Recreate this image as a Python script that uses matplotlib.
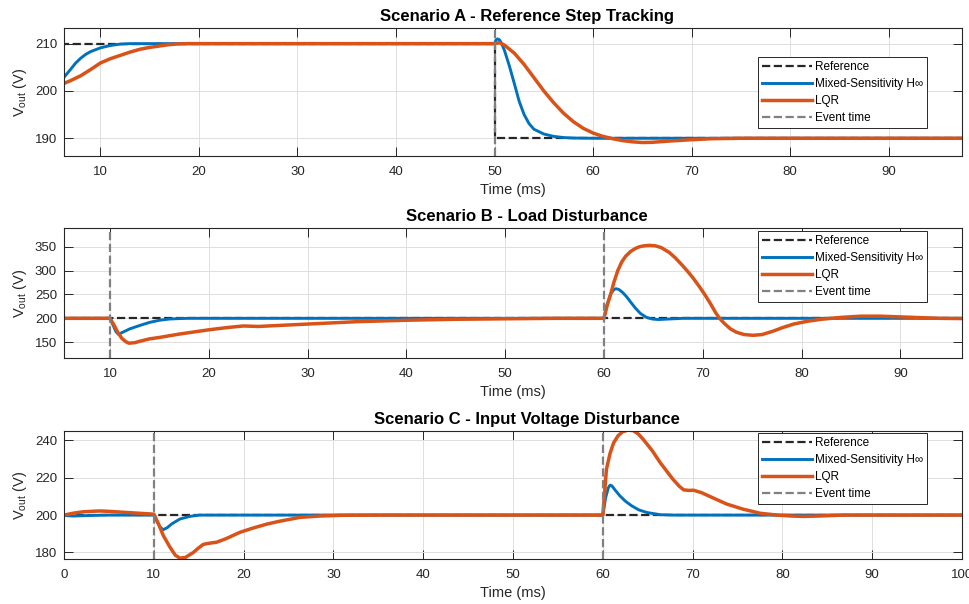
import matplotlib
matplotlib.use("Agg")
import matplotlib.pyplot as plt

plt.rcParams['font.family'] = ['Liberation Sans', 'DejaVu Sans']
plt.rcParams['mathtext.fontset'] = 'custom'
plt.rcParams['mathtext.rm'] = 'Liberation Sans'
plt.rcParams['mathtext.it'] = 'Liberation Sans'

# ---- Scenario A: reference step tracking ----
t_a_ref = [0, 50, 50, 100]
v_a_ref = [210, 210, 190, 190]
t_a_hinf = [6.32, 7, 7.5, 8, 8.5, 9, 10, 11, 12, 13, 50, 50.15, 50.3, 50.5, 50.7,
            51, 51.5, 52, 52.5, 53, 53.5, 54, 55, 56, 57, 58, 60, 97.5]
v_a_hinf = [202.9, 204.6, 205.9, 206.9, 207.7, 208.3, 209.1, 209.6, 209.9, 210, 210,
            210.8, 211.0, 210.8, 210.1, 208.6, 205.3, 201.6, 197.8, 195.0, 193.1,
            191.9, 190.9, 190.4, 190.15, 190.05, 190, 190]
t_a_lqr = [6.32, 7, 8, 9, 10, 11, 12, 13, 14, 15, 16, 17, 18, 19, 50, 50.5, 51, 52,
           53, 54, 55, 56, 57, 58, 59, 60, 61, 62, 63, 64, 65, 66, 67, 68, 70, 72,
           75, 97.5]
v_a_lqr = [201.6, 202.2, 203.2, 204.5, 205.9, 206.8, 207.5, 208.2, 208.8, 209.2,
           209.5, 209.8, 209.95, 210, 210, 210.2, 209.7, 208.0, 205.6, 202.8, 200.0,
           197.5, 195.3, 193.5, 192.1, 191.1, 190.4, 189.9, 189.5, 189.25, 189.1,
           189.15, 189.3, 189.45, 189.7, 189.9, 190, 190]
events_a = [50]

# ---- Scenario B: load disturbance ----
t_b_ref = [0, 100]
v_b_ref = [200, 200]
t_b_hinf = [5.34, 10, 10.3, 10.6, 10.85, 11.2, 12, 13, 14, 15, 16, 17, 18, 60,
            60.3, 60.7, 61.0, 61.2, 61.5, 61.9, 62.3, 62.7, 63.2, 63.7, 64.3, 64.9,
            65.5, 66.5, 68, 96.25]
v_b_hinf = [200, 200, 186, 172, 166.5, 170, 178, 185, 191.5, 196, 198.5, 199.5,
            200, 200, 228, 252, 260, 262, 260.5, 254, 245, 234, 221, 210, 202,
            198.5, 197.5, 198.5, 200, 200]
t_b_lqr = [5.34, 10, 10.4, 10.8, 11.2, 11.6, 11.9, 12.5, 13, 14, 15, 17, 20, 22,
           23.5, 25, 27, 30, 35, 40, 45, 50, 55, 60, 60.3, 60.7, 61.0, 61.4, 61.8,
           62.2, 62.7, 63.2, 63.6, 64.0, 64.6, 65.2, 65.8, 66.6, 67.2, 67.8, 68.4,
           69, 69.6, 70.2, 70.8, 71.3, 71.7, 72.2, 72.8, 73.4, 74.2, 75.1, 76, 77.1,
           78, 79.2, 80.5, 82, 84, 86, 88, 90, 92, 94, 96.25]
v_b_lqr = [200, 200, 186, 170, 158, 151, 148, 149, 152, 157, 160, 167, 176, 181,
           184, 183, 185, 188, 193, 196, 198, 199, 200, 200, 225, 252, 275, 300,
           318, 330, 340, 346.5, 349.8, 351.6, 352.7, 351.8, 348, 338, 327, 314,
           300, 285, 268, 250, 230, 212, 200, 189, 178, 171, 166, 164.5, 166, 173,
           180, 188, 193.5, 198, 202, 204.5, 204.5, 203, 201.5, 200, 199.5]
events_b = [10, 60]

# ---- Scenario C: input voltage disturbance ----
t_c_ref = [0, 100]
v_c_ref = [200, 200]
t_c_hinf = [0, 1, 3, 5, 8, 10, 10.3, 10.7, 11.06, 11.5, 12, 12.9, 14, 15.1, 17, 60,
            60.3, 60.6, 60.8, 61.0, 61.3, 61.9, 62.5, 63.2, 64, 64.9, 66.4, 68, 100]
v_c_hinf = [199.8, 199.5, 199.8, 200, 200, 200, 197, 193.5, 192.2, 193.3, 195.3,
            197.9, 199.3, 200, 200, 200, 209, 214.5, 216, 215.7, 213.8, 210.3,
            207.5, 205, 202.8, 201.4, 200.2, 200, 200]
t_c_lqr = [0, 1, 2, 3, 4, 5, 6, 8, 10, 10.5, 11.06, 11.8, 12.4, 12.9, 13.5, 14.4,
           15, 15.5, 16, 17, 18, 19.6, 21, 22.6, 24, 26.3, 28.5, 31, 35, 60, 60.2,
           60.4, 60.8, 61.2, 61.7, 62.2, 62.8, 63.4, 64.0, 64.5, 65.5, 66.4, 67.8,
           68.5, 69, 69.6, 70.1, 71, 71.9, 73.8, 75.6, 77.5, 79.4, 81, 82.3, 84,
           86.8, 100]
v_c_lqr = [200, 201, 201.7, 202, 202.2, 202, 201.7, 201.1, 200.5, 195.5, 189,
           182.8, 178.5, 177, 177.3, 180, 182.5, 184.3, 184.8, 185.5, 187.3, 190.8,
           193, 195.2, 196.7, 198.8, 199.5, 199.9, 200, 200, 212, 224.5, 233, 238.7,
           242.5, 244.6, 245.5, 245.2, 243.2, 240.5, 234.5, 228, 219.2, 215.5, 213.5,
           213.2, 213.3, 212, 210, 205.9, 203.2, 201, 200, 199.5, 199.3, 199.5, 200,
           200]
events_c = [10, 60]

titles = ["Scenario A - Reference Step Tracking",
          "Scenario B - Load Disturbance",
          "Scenario C - Input Voltage Disturbance"]
labels = ["Reference", "Mixed-Sensitivity H\u221e", "LQR", "Event time"]

panels = [
    (t_a_ref, v_a_ref, t_a_hinf, v_a_hinf, t_a_lqr, v_a_lqr, events_a),
    (t_b_ref, v_b_ref, t_b_hinf, v_b_hinf, t_b_lqr, v_b_lqr, events_b),
    (t_c_ref, v_c_ref, t_c_hinf, v_c_hinf, t_c_lqr, v_c_lqr, events_c),
]
xlims = [(6.32, 97.43), (5.34, 96.25), (0, 100)]
ylims = [(186.25, 213.3), (117, 389), (176.5, 245.0)]
xticks = [range(10, 100, 10), range(10, 100, 10), range(0, 101, 10)]
yticks = [[190, 200, 210], [150, 200, 250, 300, 350], [180, 200, 220, 240]]
positions = [[0.066, 0.7417, 0.9258, 0.2119],
             [0.066, 0.4073, 0.9258, 0.2152],
             [0.066, 0.0745, 0.9258, 0.2119]]
legend_tops = [0.773, 0.977, 0.987]

c_hinf = '#0072BD'
c_lqr = '#D95319'
c_ref = '#262626'
c_evt = '#808080'
dark = '#262626'

fig = plt.figure(figsize=(9.7, 6.04), dpi=100)

for i, (tr, vr, th, vh, tl, vl, ev) in enumerate(panels):
    ax = fig.add_axes(positions[i])
    ax.plot(tr, vr, '--', color=c_ref, lw=1.6, label=labels[0])
    ax.plot(th, vh, '-', color=c_hinf, lw=2.1, label=labels[1])
    ax.plot(tl, vl, '-', color=c_lqr, lw=2.5, label=labels[2])
    for k, e in enumerate(ev):
        ax.axvline(e, ls='--', color=c_evt, lw=1.6,
                   label=labels[3] if k == 0 else None)

    ax.set_xlim(*xlims[i])
    ax.set_ylim(*ylims[i])
    ax.set_xticks(list(xticks[i]))
    ax.set_yticks(yticks[i])
    ax.grid(True, color='#dedede', lw=0.7)
    ax.set_axisbelow(True)
    ax.tick_params(direction='in', top=True, right=True, length=6.5, width=0.7,
                   colors=dark, labelsize=9.5, pad=5)
    ax.tick_params(axis='x', pad=7)
    for s in ax.spines.values():
        s.set_color(dark)
        s.set_linewidth(0.8)
    ax.set_title(titles[i], fontsize=12, fontweight='bold', color='black',
                 pad=5, x=0.5156)
    ax.set_xlabel("Time (ms)", fontsize=10.5, color=dark, labelpad=4)
    ax.set_ylabel(r"V$_{\mathrm{out}}$ (V)", fontsize=10.5, color=dark, labelpad=4)

    leg = ax.legend(loc='upper left', bbox_to_anchor=(0.773, legend_tops[i]),
                    fontsize=8.5, frameon=True, fancybox=False, framealpha=1,
                    edgecolor=dark, borderpad=0.35, labelspacing=0.42,
                    handlelength=4.2, handletextpad=0.25, borderaxespad=0)
    leg.get_frame().set_linewidth(0.7)

fig.savefig("out.png", dpi=100)
